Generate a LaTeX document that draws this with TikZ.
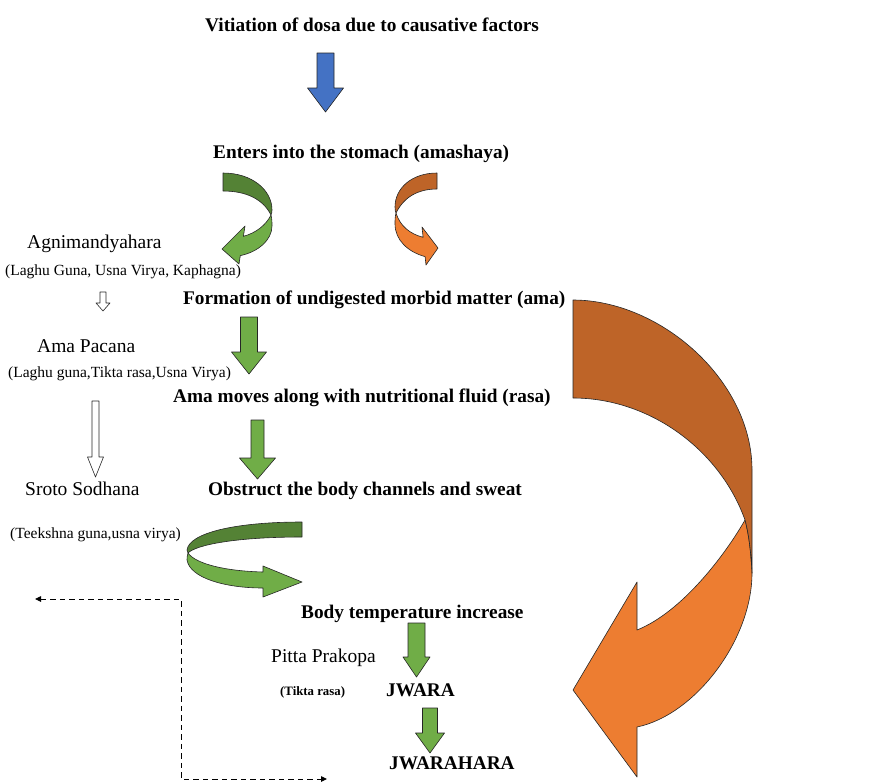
\documentclass[tikz,border=0pt]{standalone}
\usepackage{fontspec}
\setmainfont{Liberation Serif}
\usetikzlibrary{arrows.meta}
\definecolor{ablue}{HTML}{4472C4}
\definecolor{bblue}{HTML}{2F528F}
\definecolor{agreen}{HTML}{70AD47}
\definecolor{dgreen}{HTML}{548235}
\definecolor{aorange}{HTML}{ED7D31}
\definecolor{dorange}{HTML}{BE6428}
\definecolor{wmark}{HTML}{DCDCDC}
\newcommand\myblockarrow[7]{%
  \draw[shp, fill=#7] (#1-#3,#2) -- (#1+#3,#2) -- (#1+#3,#5) -- (#1+#4,#5)
    -- (#1,#6) -- (#1-#4,#5) -- (#1-#3,#5) -- cycle;}
\begin{document}
\begin{tikzpicture}[x=1pt,y=-1pt,
  bt/.style={font=\fontsize{19.3}{22}\selectfont\bfseries, anchor=base west, inner sep=0pt},
  rt/.style={font=\fontsize{19.5}{22}\selectfont, anchor=base west, inner sep=0pt},
  st/.style={font=\fontsize{15.5}{18}\selectfont, anchor=base west, inner sep=0pt},
  tb/.style={font=\fontsize{12.8}{15}\selectfont\bfseries, anchor=base west, inner sep=0pt},
  shp/.style={draw=black!85, line width=0.6pt, line join=round},
  dashlink/.style={draw=black, line width=0.9pt, dash pattern=on 5.5pt off 4pt,
    {Triangle[length=6pt,width=5.5pt]}-{Triangle[length=6pt,width=5.5pt]}}]
\useasboundingbox (0,0) rectangle (869,782);

% ---------------- texts ----------------
\node[bt] (t1)  at (205,31)  {Vitiation of dosa due to causative factors};
\node[bt] (t2)  at (213,158) {Enters into the stomach (amashaya)};
\node[rt] (t3)  at (27,248)  {Agnimandyahara};
\node[st] (t4)  at (5,275)   {(Laghu Guna, Usna Virya, Kaphagna)};
\node[bt] (t5)  at (183,304) {Formation of undigested morbid matter (ama)};
\node[rt] (t6)  at (37,352)  {Ama Pacana};
\node[st] (t7)  at (8,377)   {(Laghu guna,Tikta rasa,Usna Virya)};
\node[bt] (t8)  at (173,402) {Ama moves along with nutritional fluid (rasa)};
\node[rt] (t9)  at (25,495)  {Sroto Sodhana};
\node[bt] (t10) at (208,495) {Obstruct the body channels and sweat};
\node[st] (t11) at (10,538)  {(Teekshna guna,usna virya)};
\node[bt] (t12) at (301,618) {Body temperature increase};
\node[rt] (t13) at (271,662) {Pitta Prakopa};
\node[tb] (t14) at (280,695) {(Tikta rasa)};
\node[bt] (t15) at (386,696) {JWARA};
\node[bt] (t16) at (389,769) {JWARAHARA};

% ---------------- straight block arrows ----------------
\myblockarrow{325.5}{53}{8.5}{18}{88}{112}{ablue}
\myblockarrow{249}{317}{8.5}{17.5}{352}{374}{agreen}
\myblockarrow{257.5}{420}{6.5}{18}{458}{479}{agreen}
\myblockarrow{416.5}{623}{8.5}{13.5}{657}{677}{agreen}
\myblockarrow{430}{708}{7.5}{14.5}{733}{753}{agreen}
% white (outline) arrows
\myblockarrow{103}{292}{3}{7}{303}{311}{white}
\myblockarrow{95.5}{401}{3.5}{8}{457}{477}{white}

% ---------------- curved arrow 1 (green, left) ----------------
\draw[shp, fill=agreen] (271,215) .. controls (272,219) and (272,222) .. (272,226)
  .. controls (272,240) and (258,252) .. (240.3,255.6) -- (239,264) -- (222,249)
  -- (245,226) -- (243.4,236.3) .. controls (256,233) and (266,225) .. (271,215) -- cycle;
\draw[shp, fill=dgreen] (223,173) .. controls (252,173) and (272,190) .. (272,210)
  .. controls (272,212) and (271.5,214) .. (271,215)
  .. controls (263,199) and (246,191) .. (223,191) -- cycle;

% ---------------- curved arrow 2 (orange, small) ----------------
\draw[shp, fill=aorange] (396,213) .. controls (395,217) and (395,220) .. (395,224)
  .. controls (395,240) and (408,252) .. (425.1,256.6) -- (426,265) -- (438,248)
  -- (422,227) -- (423.1,237.3) .. controls (410,234) and (400,226) .. (396,213) -- cycle;
\draw[shp, fill=dorange] (437,173) .. controls (412,173) and (395,188) .. (395,207)
  .. controls (395,210) and (395.5,212) .. (396,213)
  .. controls (404,197) and (418,189) .. (437,189) -- cycle;

% ---------------- curved arrow 3 (green, horizontal) ----------------
\draw[shp, fill=agreen] (188,553) .. controls (187,556) and (187,558) .. (187,560)
  .. controls (190,578) and (225,588) .. (263,588) -- (263,597) -- (302,582)
  -- (263,566) -- (263,572) .. controls (225,571) and (196,564) .. (188,553) -- cycle;
\draw[shp, fill=dgreen] (302,522) .. controls (235,522) and (189,533) .. (187,550)
  .. controls (187,551) and (187.5,552) .. (188,553)
  .. controls (196,545) and (235,537) .. (302,537) -- cycle;

% ---------------- big orange curved arrow ----------------
\draw[shp, fill=aorange] (745,520) .. controls (749,535) and (751,553) .. (752,573)
  .. controls (752,640) and (695,715) .. (637,727) -- (637,777) -- (573,690)
  -- (637,582) -- (637,630) .. controls (682,612) and (725,555) .. (745,520) -- cycle;
\draw[shp, fill=dorange] (573,300) .. controls (660,300) and (752,380) .. (752,470)
  -- (752,573) .. controls (751,553) and (749,535) .. (745,520)
  .. controls (720,450) and (650,398) .. (573,398) -- cycle;

% ---------------- dashed connector ----------------
\coordinate (dL)  at (35,599);
\coordinate (dc1) at (181,599);
\coordinate (dc2) at (181,779);
\coordinate (dR)  at (327,779);
\draw[dashlink] (dL) -- (dc1) -- (dc2) -- (dR);
\end{tikzpicture}
\end{document}
